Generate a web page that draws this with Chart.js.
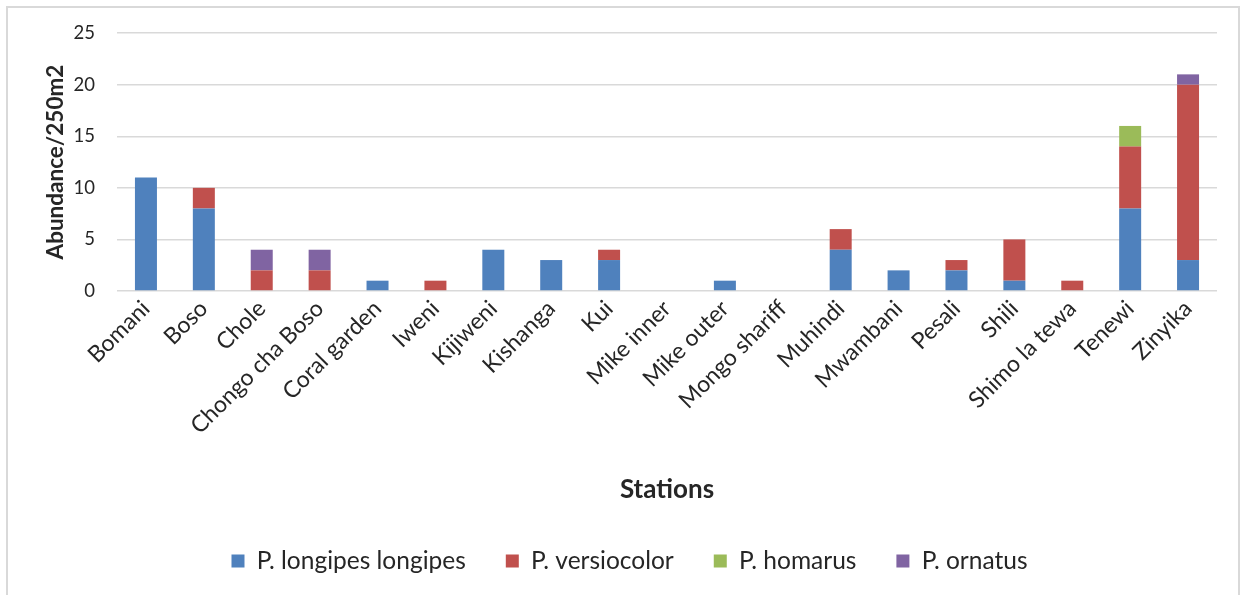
<!DOCTYPE html>
<html>
<head>
<meta charset="utf-8">
<script src="https://cdn.jsdelivr.net/npm/chart.js@4.4.1/dist/chart.umd.min.js"></script>
<style>
  html, body { margin: 0; padding: 0; background: #ffffff; }
  #wrap { position: relative; width: 1243px; height: 595px; }
  #frame {
    position: absolute; left: 6px; top: 6px; width: 1234px; height: 595px;
    border-left: 2px solid #d9d9d9; border-top: 2px solid #d9d9d9; border-right: 2px solid #d9d9d9;
    box-sizing: border-box; pointer-events: none;
  }
  canvas { position: absolute; left: 0; top: 0; }
</style>
</head>
<body>
<div id="wrap">
  <canvas id="c" width="1243" height="595"></canvas>
  <div id="frame"></div>
</div>
<script>
// Sampling stations
const stations = [
  "Bomani", "Boso", "Chole", "Chongo cha Boso", "Coral garden", "Iweni",
  "Kijiweni", "Kishanga", "Kui", "Mike inner", "Mike outer", "Mongo shariff",
  "Muhindi", "Mwambani", "Pesali", "Shili", "Shimo la tewa", "Tenewi", "Zinyika"
];

// Abundance per 250 m2 for each species
const longipes    = [11, 8, 0, 0, 1, 0, 4, 3, 3, 0, 1, 0, 4, 2, 2, 1, 0, 8, 3];
const versicolor  = [0, 2, 2, 2, 0, 1, 0, 0, 1, 0, 0, 0, 2, 0, 1, 4, 1, 6, 17];
const homarus     = [0, 0, 0, 0, 0, 0, 0, 0, 0, 0, 0, 0, 0, 0, 0, 0, 0, 2, 0];
const ornatus     = [0, 0, 2, 2, 0, 0, 0, 0, 0, 0, 0, 0, 0, 0, 0, 0, 0, 0, 1];

const seriesNames = ["P. longipes longipes", "P. versiocolor", "P. homarus", "P. ornatus"];
const yTicks = [0, 5, 10, 15, 20, 25];

const FONT = "Lato, 'Open Sans', sans-serif";
const TEXT = "#262626";

function ds(label, data, color) {
  return {
    label, data,
    backgroundColor: color,
    borderWidth: 0,
    barPercentage: 0.38,
    categoryPercentage: 1.0
  };
}

new Chart(document.getElementById("c"), {
  type: "bar",
  data: {
    labels: stations,
    datasets: [
      ds(seriesNames[0], longipes, "#4f81bd"),
      ds(seriesNames[1], versicolor, "#c0504d"),
      ds(seriesNames[2], homarus, "#9bbb59"),
      ds(seriesNames[3], ornatus, "#8064a2")
    ]
  },
  options: {
    responsive: false,
    animation: false,
    layout: { padding: { left: 42, right: 26, top: 32, bottom: 11.75 } },
    plugins: {
      tooltip: { enabled: false },
      legend: {
        position: "bottom",
        labels: {
          font: { family: FONT, size: 24.5 },
          color: TEXT,
          boxWidth: 13,
          boxHeight: 13,
          padding: 40
        }
      }
    },
    scales: {
      x: {
        stacked: true,
        grid: { display: false, drawTicks: false },
        border: { display: false },
        ticks: {
          font: { family: FONT, size: 23 },
          color: TEXT,
          minRotation: 45,
          maxRotation: 45,
          autoSkip: false,
          padding: 4
        },
        title: {
          display: true,
          text: "Stations",
          font: { family: FONT, size: 26, weight: "bold" },
          color: TEXT,
          padding: { top: 0, bottom: 3.15 }
        },
        afterFit(scale) { scale.height = 217.75; }
      },
      y: {
        stacked: true,
        min: 0, max: 25,
        afterBuildTicks(scale) { scale.ticks = yTicks.map(v => ({ value: v })); },
        grid: { color: "#d9d9d9", lineWidth: 1.5, drawTicks: false },
        border: { display: false },
        ticks: {
          font: { family: FONT, size: 18.5 },
          color: TEXT,
          padding: 22
        },
        title: {
          display: true,
          text: "Abundance/250m2",
          font: { family: FONT, size: 22.5, weight: "bold" },
          color: TEXT,
          padding: { top: 0.5, bottom: 0 }
        },
        afterFit(scale) { scale.width = 75; }
      }
    }
  }
});
</script>
</body>
</html>
